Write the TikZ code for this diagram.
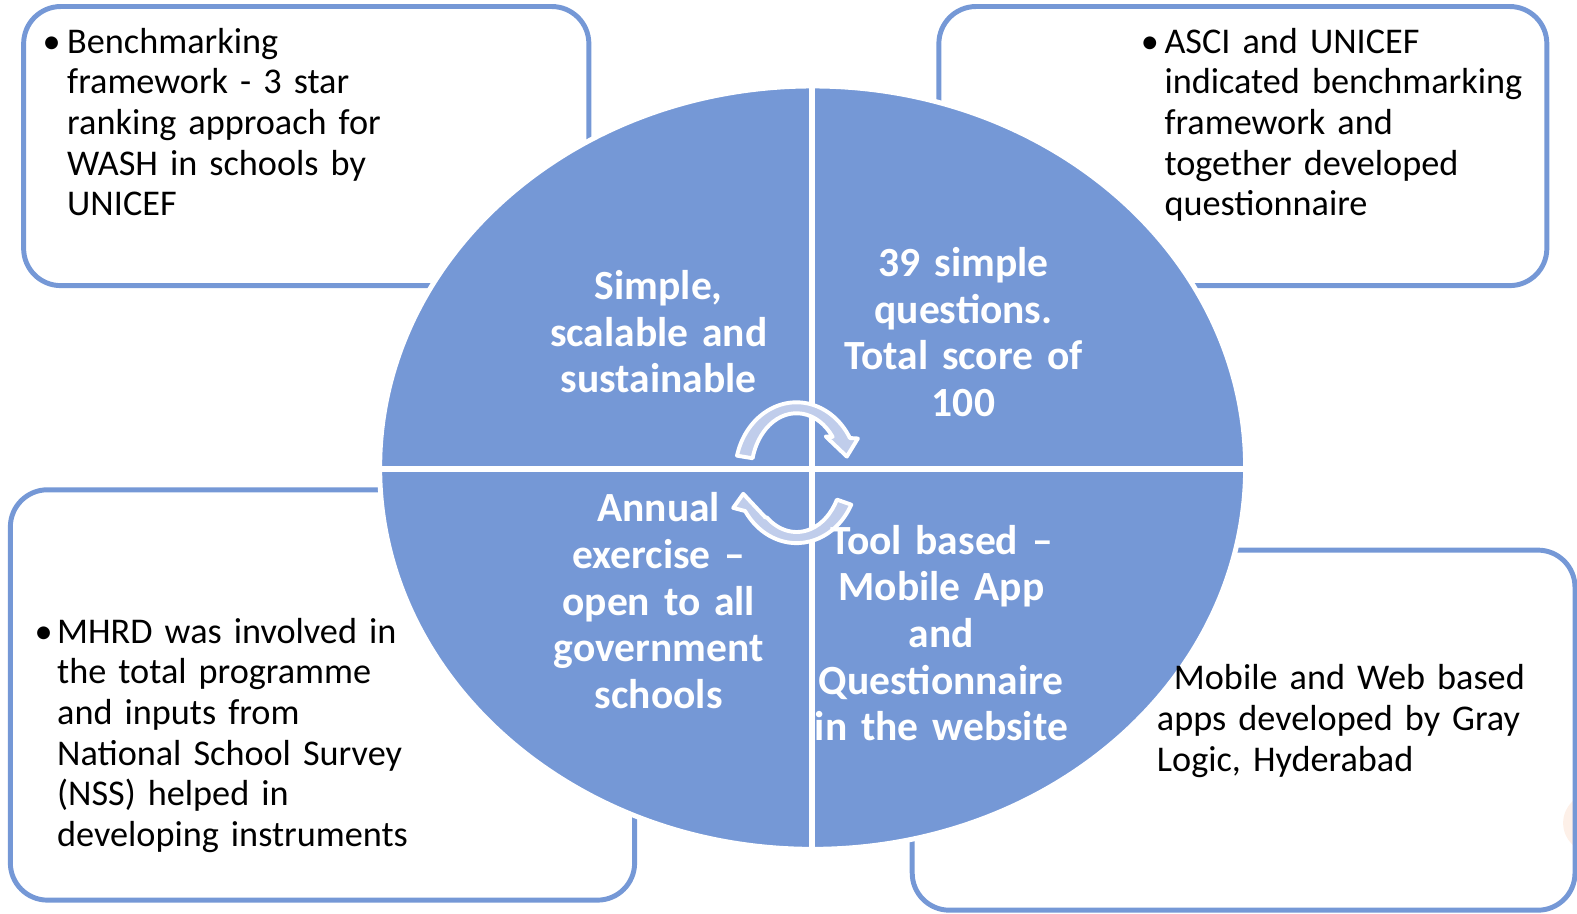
\documentclass[tikz,border=0pt]{standalone}
\usepackage{fontspec}
\setmainfont{Carlito}
\definecolor{wheelblue}{RGB}{117,152,214}
\definecolor{cyclefill}{RGB}{192,205,235}
\definecolor{peach}{RGB}{253,240,232}

\begin{document}
\begin{tikzpicture}[x=0.02cm, y=0.02cm,
    infobox/.style={draw=wheelblue, line width=2.8pt, rounded corners=21pt},
    boxtext/.style={anchor=base west, inner sep=0pt, text width=9cm, align=left,
        font=\fontsize{20.5pt}{23pt}\selectfont},
    bulletmark/.style={anchor=base west, inner sep=0pt, font=\fontsize{20.5pt}{23pt}\selectfont},
    wheeltext/.style={anchor=base, inner sep=0pt, text width=7cm, align=center, text=white,
        font=\fontsize{23.5pt}{26.4pt}\selectfont\bfseries},
    cyclearrow/.style={fill=cyclefill, draw=white, line width=2.2pt, line join=round}]
    \useasboundingbox (0,0) rectangle (1568,908);
    % the four boxes
    \fill[peach] (1584,89.7) circle (29.8);
    \draw[infobox] (23.5,624) rectangle (585.5,901.5);
    \draw[infobox] (933.5,624) rectangle (1538,901.5);
    \draw[infobox] (10.3,13) rectangle (631,421);
    \draw[infobox] (907,3) rectangle (1566,361);
    % the wheel
    \filldraw[fill=wheelblue, draw=white, line width=2.8pt] (808,443) ellipse [x radius=430.5, y radius=379.5];
    \draw[white, line width=3.4pt] (807,825) -- (807,61);
    \draw[white, line width=3.4pt] (375,442) -- (1241,442);
    % cycle arrows
    \filldraw[cyclearrow] (732.8,454.9) arc[start angle=166, end angle=29.5, x radius=61, y radius=70]
        -- (853,472) -- (842,454) -- (821,474) -- (827.9,473.6)
        arc[start angle=37, end angle=166, x radius=45, y radius=59] -- cycle;
    \filldraw[cyclearrow] (846.4,406.2) arc[start angle=-27, end angle=-147, x radius=61, y radius=70]
        -- (729,403) -- (739,417) -- (761,393.5) -- (762.5,393.5)
        arc[start angle=-131, end angle=-27, x radius=45, y radius=59] -- cycle;
    % quadrant texts
    \node[wheeltext] (simple) at (655,610) {Simple,\\scalable and\\sustainable};
    \node[wheeltext] (questions) at (958,633) {39 simple\\questions.\\Total score of\\100};
    \node[wheeltext] (annual) at (655,389) {Annual\\exercise \textendash\\open to all\\government\\schools};
    \node[wheeltext] (toolbased) at (936,357) {Tool based \textendash\\Mobile App\\and\\Questionnaire\\in the website};
    % box texts
    \node[bulletmark] (benchdot) at (42,855) {\textbullet};
    \node[boxtext] (bench) at (66.5,855) {Benchmarking\\framework - 3 star\\ranking approach for\\WASH in schools by\\UNICEF};
    \node[bulletmark] (ascidot) at (1134,855) {\textbullet};
    \node[boxtext] (asci) at (1157.5,855) {ASCI and UNICEF\\indicated benchmarking\\framework and\\together developed\\questionnaire};
    \node[bulletmark] (mhrddot) at (34,268.5) {\textbullet};
    \node[boxtext] (mhrd) at (56.5,268.5) {MHRD was involved in\\the total programme\\and inputs from\\National School Survey\\(NSS) helped in\\developing instruments};
    \node[boxtext] (mobile) at (1150,222) {\hspace*{9.6pt}Mobile and Web based\\apps developed by Gray\\Logic, Hyderabad};
\end{tikzpicture}
\end{document}
